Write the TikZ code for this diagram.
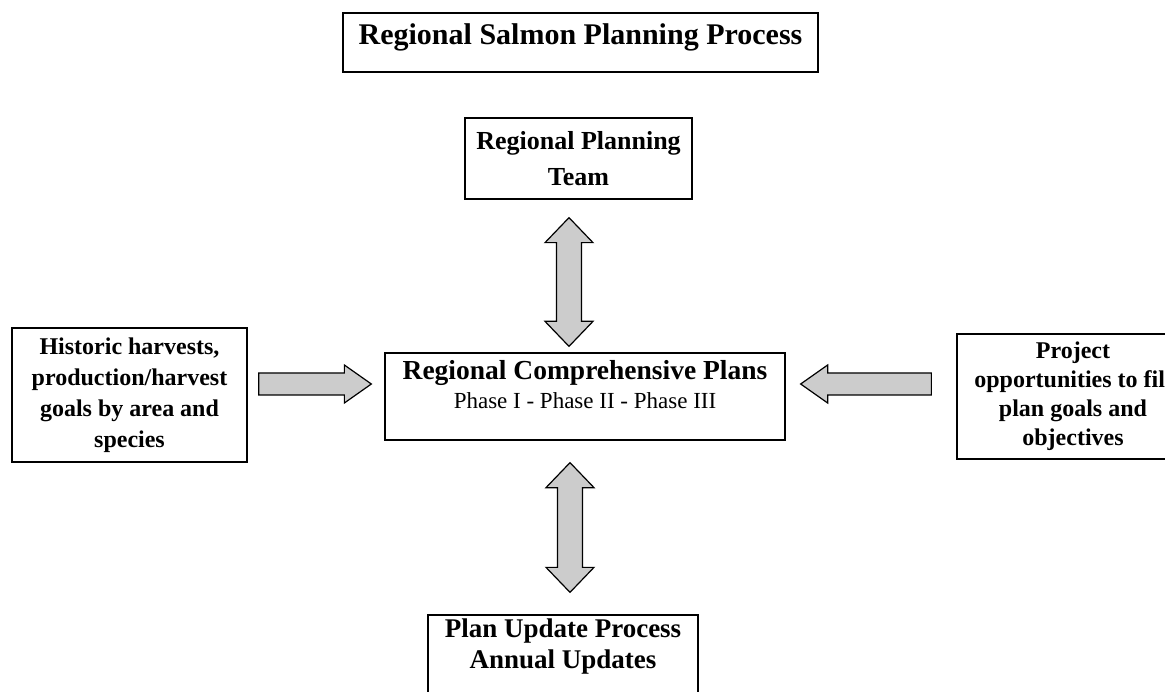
\documentclass[tikz,border=0pt]{standalone}
\usepackage{fontspec}
\setmainfont{Liberation Serif}
\usetikzlibrary{calc}

% vertical double block arrow between two tips (same x)
\newcommand\vblock[2]{%
  \filldraw[blockfill] let \p1=(#1), \p2=(#2) in
    (\x1,\y1) -- ++(24pt,-25pt) -- ++(-11.5pt,0pt) -- (\x1+12.5pt,\y2+25pt)
    -- ++(11.5pt,0pt) -- (\x2,\y2) -- ++(-24pt,25pt) -- ++(11.5pt,0pt)
    -- (\x1-12.5pt,\y1-25pt) -- ++(-11.5pt,0pt) -- cycle;}
% horizontal block arrow pointing right: tail, tip
\newcommand\rblock[2]{%
  \filldraw[blockfill] let \p1=(#1), \p2=(#2) in
    (\x1,\y1+11pt) -- (\x2-27pt,\y1+11pt) -- (\x2-27pt,\y1+19pt) -- (\x2,\y2)
    -- (\x2-27pt,\y1-19pt) -- (\x2-27pt,\y1-11pt) -- (\x1,\y1-11pt) -- cycle;}
% horizontal block arrow pointing left: tail, tip
\newcommand\lblock[2]{%
  \filldraw[blockfill] let \p1=(#1), \p2=(#2) in
    (\x1,\y1+11pt) -- (\x2+27pt,\y1+11pt) -- (\x2+27pt,\y1+19pt) -- (\x2,\y2)
    -- (\x2+27pt,\y1-19pt) -- (\x2+27pt,\y1-11pt) -- (\x1,\y1-11pt) -- cycle;}

\begin{document}
\begin{tikzpicture}[x=1pt,y=-1pt,
  frame/.style={draw=black,line width=1.3pt,inner sep=0pt},
  lbl/.style={align=center,inner sep=0pt},
  blockfill/.style={draw=black,line width=1.2pt,fill=black!20,line join=miter}]
\useasboundingbox (0,0) rectangle (1165,692);
\clip (0,0) rectangle (1165,692);

% box frames
\node[frame,minimum width=475pt,minimum height=59pt] (title) at (580.5,42.5) {};
\node[frame,minimum width=227pt,minimum height=81pt] (team) at (578.5,158.5) {};
\node[frame,minimum width=400pt,minimum height=87pt] (plans) at (585,396.5) {};
\node[frame,minimum width=235pt,minimum height=134pt] (hist) at (129.5,395) {};
\node[frame,minimum width=232pt,minimum height=125pt] (proj) at (1073,396.5) {};
\node[frame,minimum width=270pt,minimum height=95pt] (upd) at (563,662.5) {};

% texts
\node[lbl,anchor=base,font=\fontsize{30}{36}\bfseries] (titleT) at (580.5,45)
  {Regional Salmon Planning Process};
\node[lbl,font=\fontsize{26}{36}\bfseries] (teamT) at (team.center)
  {Regional Planning\\Team};
\node[lbl,anchor=base,font=\fontsize{27.5}{32}\bfseries] (plansT) at (585,380)
  {Regional Comprehensive Plans};
\node[lbl,anchor=base,font=\fontsize{23}{27}\selectfont] (phaseT) at (585,409)
  {Phase I - Phase II - Phase III};
\node[lbl,font=\fontsize{24}{31}\bfseries] (histT) at (hist.center)
  {Historic harvests,\\production/harvest\\goals by area and\\species};
\node[lbl,font=\fontsize{24}{29}\bfseries] (projT) at (proj.center)
  {Project\\opportunities to fill\\plan goals and\\objectives};
\node[lbl,anchor=north,font=\fontsize{27}{31}\bfseries] (updT) at (563,619)
  {Plan Update Process\\Annual Updates};

% arrow end points
\coordinate (a1) at ($(team.south)+(-9.5,18)$);
\coordinate (a2) at ($(plans.north)+(-16,-6)$);
\coordinate (b1) at ($(plans.south)+(-15,22)$);
\coordinate (b2) at ($(upd.north)+(7,-22)$);
\coordinate (c1) at ($(hist.east)+(11,-11)$);
\coordinate (c2) at ($(plans.west)+(-13,-12.5)$);
\coordinate (d1) at ($(proj.west)+(-25,-12.5)$);
\coordinate (d2) at ($(plans.east)+(15,-12.5)$);

% block arrows
\vblock{a1}{a2}
\vblock{b1}{b2}
\rblock{c1}{c2}
\lblock{d1}{d2}
\end{tikzpicture}
\end{document}
